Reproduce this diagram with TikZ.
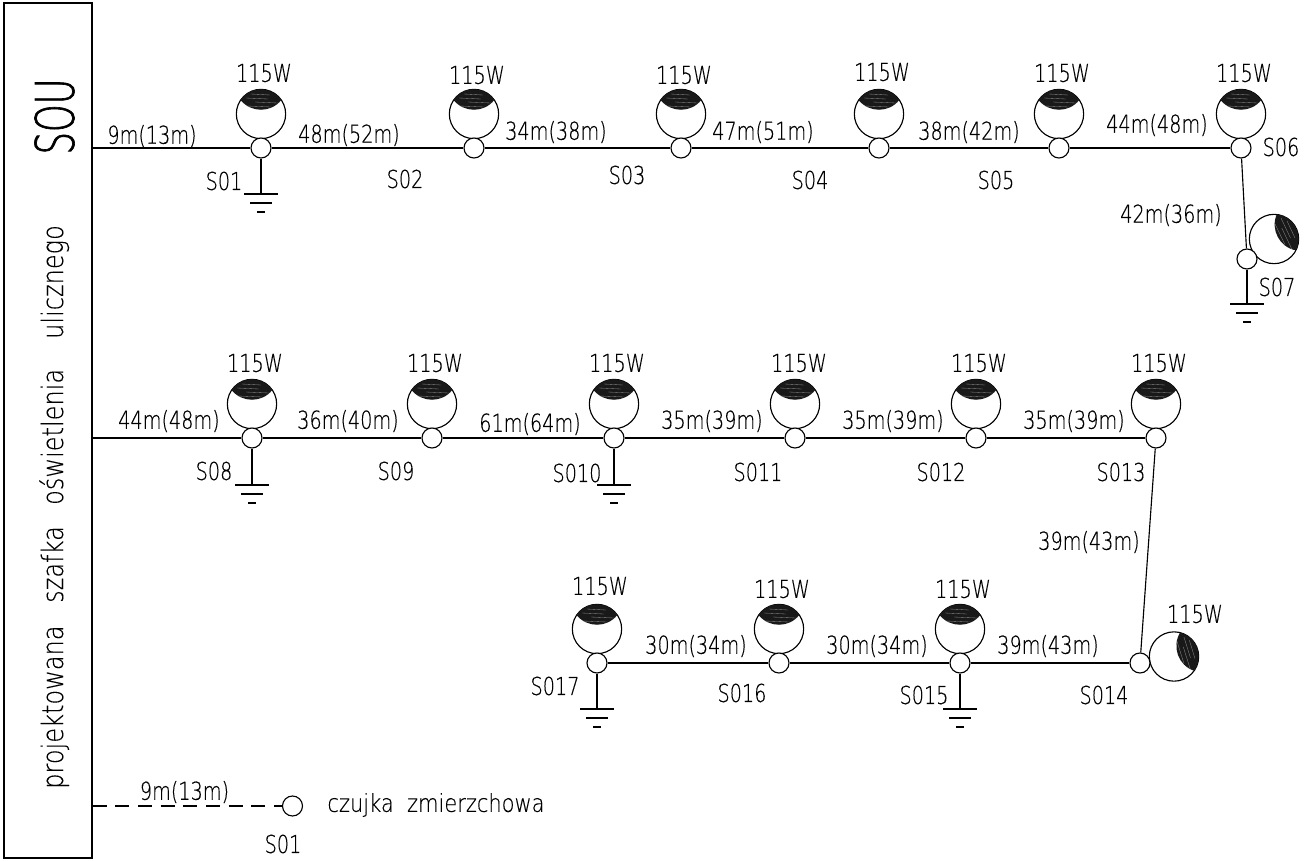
\documentclass[tikz,border=0pt]{standalone}
\usepackage{fontspec}
\setmainfont[FakeStretch=0.78,FakeBold=0.25]{DejaVu Sans ExtraLight}
\newfontfamily\soufont[FakeStretch=0.66,FakeBold=1.2]{DejaVu Sans ExtraLight}
\newfontfamily\longfont[FakeStretch=0.82,FakeBold=0.1]{DejaVu Sans ExtraLight}
\newfontfamily\czfont[FakeStretch=0.85,FakeBold=0.25]{DejaVu Sans ExtraLight}
\usetikzlibrary{calc}
\tikzset{
  x=0.75pt,y=-0.75pt,
  pole/.style={circle,draw,fill=white,minimum size=15pt,inner sep=0pt,line width=0.85pt},
  lamp/.style={circle,draw,fill=white,minimum size=37pt,inner sep=0pt,line width=0.85pt},
  lbl/.style={font=\fontsize{18.5}{19}\selectfont,inner sep=0pt,text=black},
  wire/.style={line width=0.85pt},
  earth/.style={line width=1.1pt},
}
% #1 centre, #2 rotation
\newcommand{\lampcap}[2]{%
  \begin{scope}[shift={(#1)},rotate=#2]
    \fill[black!90] (-20.5,-14) arc[start angle=214.7,end angle=325.3,radius=24.8]
       .. controls (10,-1) and (-10,-1) .. cycle;
    \foreach \yy/\xa/\xb in {-20/-10/9,-16/-15/7,-12/-6/17,-8/-14/10}
      \draw[white!55!black,line width=0.25pt] (\xa,\yy) -- (\xb,\yy+1);
  \end{scope}}
% #1 pole name, #2 x, #3 y
\newcommand{\upperlamp}[3]{%
  \node[lamp] (l#1) at (#2,#3-34) {};
  \lampcap{#2,#3-34}{0}
  \node[pole] (#1) at (#2,#3) {};}
% #1 pole node, #2 earth point
\newcommand{\earthsym}[2]{%
  \coordinate (g#1) at (#2);
  \draw[earth] (#1.south) -- (g#1);
  \draw[earth] ($(g#1)+(-17,0)$) -- ($(g#1)+(17,0)$);
  \draw[earth] ($(g#1)+(-11,9)$) -- ($(g#1)+(11,9)$);
  \draw[earth] ($(g#1)+(-4,18)$) -- ($(g#1)+(4,18)$);}
\begin{document}
\begin{tikzpicture}
\useasboundingbox (0,0) rectangle (1315,861);
% cabinet
\node[draw,line width=1pt,inner sep=0pt,minimum width=66pt,minimum height=641.25pt] (sou) at (48,430.5) {};
\coordinate (c1) at (sou.east |- 0,148);
\coordinate (c2) at (sou.east |- 0,438);
\coordinate (c3) at (sou.east |- 0,806);
\node[inner sep=0pt,rotate=90,font=\soufont\fontsize{40}{41}\selectfont] (t0) at (54.5,116.5) {SOU};
\node[inner sep=0pt,rotate=90,anchor=base,font=\longfont\fontsize{22}{23}\selectfont] (t1) at (63,507) {projektowana\hspace{17pt}szafka\hspace{16pt}oświetlenia\hspace{22.5pt}ulicznego};
\upperlamp{s1}{261}{148}
\upperlamp{s2}{474}{148}
\upperlamp{s3}{681}{148}
\upperlamp{s4}{879}{148}
\upperlamp{s5}{1059}{148}
\upperlamp{s6}{1241}{148}
\draw[wire] (c1) -- (s1) -- (s2) -- (s3) -- (s4) -- (s5) -- (s6);
% S07
\node[lamp] (l7) at (1274,239) {};
\lampcap{1274,239}{-62}
\node[pole] (s7) at (1247,259) {};
\draw[wire] (s6) -- (s7);
\earthsym{s7}{1247,304}
% row 2
\upperlamp{s8}{252}{438}
\upperlamp{s9}{432}{438}
\upperlamp{s10}{614}{438}
\upperlamp{s11}{795}{438}
\upperlamp{s12}{976}{438}
\upperlamp{s13}{1156}{438}
\draw[wire] (c2) -- (s8) -- (s9) -- (s10) -- (s11) -- (s12) -- (s13);
% row 3
\upperlamp{s17}{597}{663}
\upperlamp{s16}{779}{663}
\upperlamp{s15}{960}{663}
\node[lamp] (l14) at (1174,656.5) {};
\lampcap{1174,656.5}{-70}
\node[pole] (s14) at (1140,663) {};
\draw[wire] (s17) -- (s16) -- (s15) -- (s14);
\draw[wire] (s13) -- (s14);
\earthsym{s1}{261,194}
\earthsym{s8}{252,485}
\earthsym{s10}{614,485}
\earthsym{s17}{597,709}
\earthsym{s15}{960,709}
% sensor
\node[circle,draw,fill=white,minimum size=15pt,inner sep=0pt,line width=0.85pt] (s0) at (292.5,806) {};
\draw[line width=1.1pt,dash pattern=on 10.5pt off 6.5pt] (c3) -- (s0);
% watts
\foreach \n/\x/\y in {a/264/73,b/477/75,c/684/75,d/882/72,e/1062/73,f/1244/73,g/255/363,h/435/363,i/617/363,j/799/363,k/979/363,m/1159/363,n/600/586,o/782/589,p/963/589,q/1195/614}
  \node[lbl] (w\n) at (\x,\y) {115W};
% names
\foreach \n/\t/\x/\y in {n1/S01/224/181,n2/S02/405/179,n3/S03/627/175,n4/S04/810/180,n5/S05/996/180,n6/S06/1281/147,n7/S07/1277/287,n8/S08/214/471,n9/S09/396/471,n10/S010/577/473,n11/S011/758/472,n12/S012/941/472,n13/S013/1121/472,n14/S014/1104/695,n15/S015/924/695,n16/S016/742/693,n17/S017/555/686,n0/S01/283/844}
  \node[lbl] (\n) at (\x,\y) {\t};
% lengths
\foreach \n/\t/\x/\y in {d1/9m(13m)/152/136,d2/48m(52m)/349/135,d3/34m(38m)/556/132,d4/47m(51m)/763/132,d5/38m(42m)/969/132,d6/44m(48m)/1157/125,d7/42m(36m)/1171/215,d8/44m(48m)/169/421,d9/36m(40m)/348/421,d10/61m(64m)/530/424,d11/35m(39m)/712/421,d12/35m(39m)/893/421,d13/35m(39m)/1074/421,d14/39m(43m)/1089/542,d15/39m(43m)/1048/646,d16/30m(34m)/877/646,d17/30m(34m)/696/646,d18/9m(13m)/184.5/792}
  \node[lbl] (\n) at (\x,\y) {\t};
\node[inner sep=0pt,font=\czfont\fontsize{18.5}{19}\selectfont] (cz) at (436,805) {czujka\ \ zmierzchowa};
\end{tikzpicture}
\end{document}
